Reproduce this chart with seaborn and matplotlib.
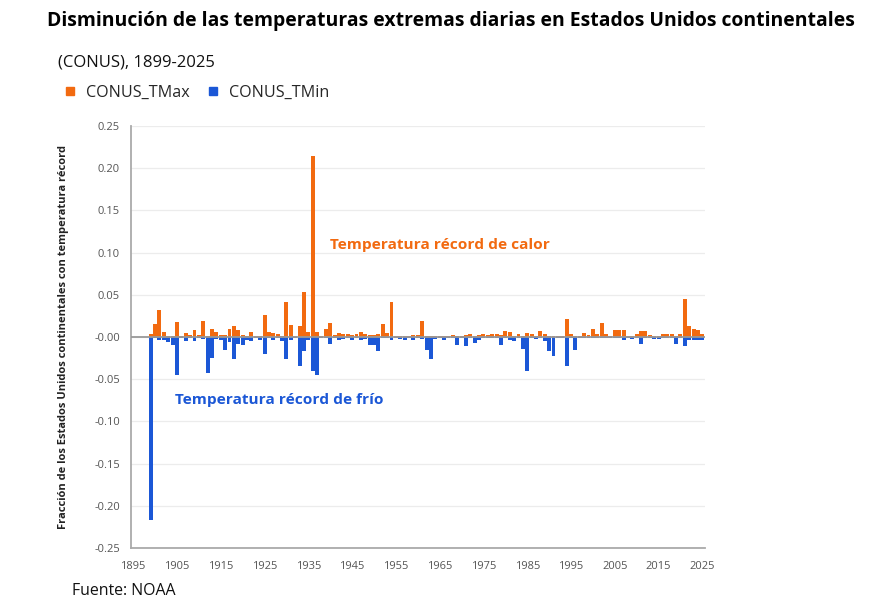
import numpy as np
import pandas as pd
import matplotlib.pyplot as plt
from matplotlib.lines import Line2D
import seaborn as sns

years = list(range(1899, 2026))

# fraction of CONUS with daily record highs (per year)
tmax = [0.003,
        0.015, 0.032, 0.006, 0.001, 0.001, 0.018, 0.001, 0.005, 0.002, 0.008,   # 1900s
        0.002, 0.019, 0.001, 0.009, 0.006, 0.002, 0.002, 0.010, 0.013, 0.008,   # 1910s
        0.002, 0.001, 0.006, 0.001, 0.001, 0.026, 0.006, 0.005, 0.004, 0.001,   # 1920s
        0.042, 0.014, 0.001, 0.013, 0.053, 0.006, 0.215, 0.006, 0.001, 0.009,   # 1930s
        0.016, 0.002, 0.005, 0.003, 0.004, 0.002, 0.003, 0.006, 0.003, 0.002,   # 1940s
        0.002, 0.004, 0.015, 0.005, 0.041, 0.001, 0.001, 0.001, 0.001, 0.002,   # 1950s
        0.002, 0.019, 0.001, 0.001, 0.001, 0.001, 0.001, 0.001, 0.002, 0.001,   # 1960s
        0.001, 0.002, 0.003, 0.001, 0.002, 0.003, 0.002, 0.004, 0.003, 0.002,   # 1970s
        0.007, 0.006, 0.001, 0.004, 0.001, 0.005, 0.003, 0.001, 0.007, 0.003,   # 1980s
        0.001, 0.001, 0.001, 0.001, 0.021, 0.004, 0.001, 0.001, 0.005, 0.002,   # 1990s
        0.009, 0.003, 0.017, 0.004, 0.001, 0.008, 0.008, 0.008, 0.001, 0.001,   # 2000s
        0.003, 0.007, 0.007, 0.002, 0.001, 0.001, 0.003, 0.004, 0.004, 0.001,   # 2010s
        0.003, 0.045, 0.013, 0.010, 0.008, 0.004]                               # 2020s

# fraction with daily record lows (plotted negative)
tmin = [-0.217,
        -0.001, -0.003, -0.004, -0.006, -0.009, -0.045, -0.001, -0.005, -0.001, -0.005,
        -0.001, -0.002, -0.043, -0.025, -0.002, -0.004, -0.015, -0.006, -0.026, -0.008,
        -0.010, -0.004, -0.005, -0.001, -0.004, -0.020, -0.001, -0.003, -0.001, -0.005,
        -0.026, -0.003, -0.001, -0.034, -0.017, -0.004, -0.040, -0.045, -0.001, -0.001,
        -0.008, -0.001, -0.004, -0.002, -0.001, -0.003, -0.001, -0.004, -0.002, -0.009,
        -0.009, -0.017, -0.001, -0.001, -0.003, -0.001, -0.002, -0.004, -0.001, -0.003,
        -0.001, -0.002, -0.015, -0.026, -0.002, -0.001, -0.003, -0.001, -0.001, -0.010,
        -0.001, -0.011, -0.001, -0.007, -0.003, -0.001, -0.001, -0.001, -0.001, -0.009,
        -0.001, -0.003, -0.005, -0.001, -0.014, -0.040, -0.001, -0.002, -0.001, -0.005,
        -0.017, -0.022, -0.001, -0.001, -0.034, -0.001, -0.015, -0.001, -0.001, -0.001,
        -0.001, -0.001, -0.001, -0.001, -0.001, -0.001, -0.001, -0.003, -0.001, -0.002,
        -0.001, -0.008, -0.001, -0.001, -0.002, -0.002, -0.001, -0.001, -0.001, -0.008,
        -0.001, -0.011, -0.003, -0.003, -0.003, -0.003]

tick_years = list(range(1895, 2026, 10))

orange = '#F26A10'
blue = '#1B57D6'

df = pd.DataFrame({'year': years, 'tmax': tmax, 'tmin': tmin})

sns.set_style('white')
plt.rcParams['font.family'] = ['Open Sans', 'DejaVu Sans']

fig = plt.figure(figsize=(8.87, 6.04), dpi=100)
ax = fig.add_axes([0.1477, 0.0927, 0.6471, 0.6987])

for v in np.arange(-0.25, 0.2501, 0.05):
    ax.axhline(v, color='#ececec', lw=0.9, zorder=0)

sns.barplot(data=df, x='year', y='tmax', native_scale=True, color=orange,
            width=0.9, saturation=1, linewidth=0, ax=ax, zorder=2)
sns.barplot(data=df, x='year', y='tmin', native_scale=True, color=blue,
            width=0.9, saturation=1, linewidth=0, ax=ax, zorder=2)
ax.axhline(0, color='#999999', lw=1.3, zorder=3)

ax.set_xlim(1894.5, 2025.6)
ax.set_ylim(-0.25, 0.25)
ax.set_xticks(tick_years)
ax.set_xticklabels([str(y) for y in tick_years])
ax.set_yticks(np.round(np.arange(-0.25, 0.2501, 0.05), 2))
ax.set_yticklabels(['%.2f' % v for v in np.arange(-0.25, 0.2501, 0.05)])
ax.tick_params(axis='both', length=0, labelsize=8, colors='#555555', pad=8)
ax.tick_params(axis='x', pad=9)
ax.set_xlabel('')
ax.set_ylabel('Fracción de los Estados Unidos continentales con temperatura récord',
              fontsize=8.0, fontweight='bold', color='#222222', labelpad=18)

sns.despine(ax=ax)
for s in ['left', 'bottom']:
    ax.spines[s].set_color('#aaaaaa')
    ax.spines[s].set_linewidth(1.3)

ax.text(1939.9, 0.109, 'Temperatura récord de calor', color=orange,
        fontsize=11.1, fontweight='bold', va='center')
ax.text(1904.5, -0.0745, 'Temperatura récord de frío', color=blue,
        fontsize=11.1, fontweight='bold', va='center')

fig.text(0.053, 0.965, 'Disminución de las temperaturas extremas diarias en Estados Unidos continentales',
         fontsize=13.95, fontweight='bold', color='black', va='center')
fig.text(0.065, 0.897, '(CONUS), 1899-2025', fontsize=12, color='#111111', va='center')

handles = [Line2D([], [], marker='s', ls='', color=orange, markersize=6),
           Line2D([], [], marker='s', ls='', color=blue, markersize=6)]
fig.legend(handles, ['CONUS_TMax', 'CONUS_TMin'], loc='center left',
           bbox_to_anchor=(0.0535, 0.847), ncol=2, frameon=False,
           fontsize=11.6, handletextpad=0.5, columnspacing=0.95, handlelength=1.0)

fig.text(0.081, 0.021, 'Fuente: NOAA', fontsize=11.4, color='#111111', va='center')

plt.savefig('out.png', dpi=100)
